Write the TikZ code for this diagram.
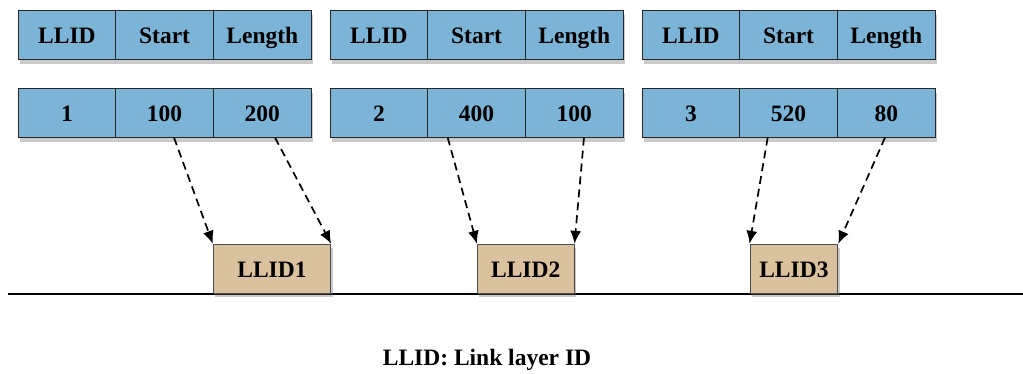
\documentclass[tikz,border=0pt]{standalone}
\usepackage{fontspec}
\setmainfont{Liberation Serif}
\usetikzlibrary{shadows, arrows.meta}
\definecolor{cellblue}{RGB}{123,180,214}
\definecolor{llidtan}{RGB}{218,194,158}
\begin{document}
\begin{tikzpicture}[x=1pt, y=-1pt]
\useasboundingbox (0,0) rectangle (1023,374);
\tikzset{cell/.style={rectangle, draw=black!85, line width=0.9pt, fill=cellblue,
    minimum width=97.7pt, minimum height=48.7pt, inner sep=0pt,
    text height=20pt, text depth=3.4pt,
    font=\fontsize{23.5}{27}\selectfont\bfseries}}
\tikzset{llid/.style={cell, fill=llidtan, draw=black!70, minimum height=49pt,
    drop shadow={shadow xshift=2pt, shadow yshift=-4pt, fill=black!60, opacity=0.35}}}

% shadows under each row
\foreach \x in {18,330,642} {
  \fill[black!60, opacity=0.35] (\x+2,15) rectangle (\x+295,64);
  \fill[black!60, opacity=0.35] (\x+2,93) rectangle (\x+295,142);
}

% header rows
\node[cell] (h1a) at (66.9, 35.2) {LLID};
\node[cell] (h1b) at (164.6, 35.2) {Start};
\node[cell] (h1c) at (262.3, 35.2) {Length};
\node[cell] (h2a) at (378.9, 35.2) {LLID};
\node[cell] (h2b) at (476.6, 35.2) {Start};
\node[cell] (h2c) at (574.3, 35.2) {Length};
\node[cell] (h3a) at (690.9, 35.2) {LLID};
\node[cell] (h3b) at (788.6, 35.2) {Start};
\node[cell] (h3c) at (886.3, 35.2) {Length};

% value rows
\node[cell] (v1a) at (66.9, 113.2) {1};
\node[cell] (v1b) at (164.6, 113.2) {100};
\node[cell] (v1c) at (262.3, 113.2) {200};
\node[cell] (v2a) at (378.9, 113.2) {2};
\node[cell] (v2b) at (476.6, 113.2) {400};
\node[cell] (v2c) at (574.3, 113.2) {100};
\node[cell] (v3a) at (690.9, 113.2) {3};
\node[cell] (v3b) at (788.6, 113.2) {520};
\node[cell] (v3c) at (886.3, 113.2) {80};

% link
\coordinate (wl) at (8, 293.5);
\coordinate (wr) at (1023, 293.5);
\draw[line width=2pt] (wl) -- (wr);

\node[llid, minimum width=117.4pt] (L1) at (272.0, 268.8) {LLID1};
\node[llid, minimum width=96.7pt] (L2) at (525.7, 268.8) {LLID2};
\node[llid, minimum width=87.7pt] (L3) at (793.9, 268.8) {LLID3};

\node[font=\fontsize{23.5}{27}\selectfont\bfseries] (key) at (487, 360) {LLID: Link layer ID};

\coordinate (s1) at (174, 137.6);
\coordinate (e1) at (275, 137.6);
\coordinate (s2) at (447.7, 137.6);
\coordinate (e2) at (584, 137.6);
\coordinate (s3) at (767.7, 137.6);
\coordinate (e3) at (885, 137.6);

\tikzset{ptr/.style={-{Latex[length=13pt, width=11pt]}, line width=1.7pt,
    dash pattern=on 8pt off 5pt}}
\path (s1) edge [ptr] (L1.north west);
\path (e1) edge [ptr] (L1.north east);
\path (s2) edge [ptr] (L2.north west);
\path (e2) edge [ptr] (L2.north east);
\path (s3) edge [ptr] (L3.north west);
\path (e3) edge [ptr] (L3.north east);
\end{tikzpicture}
\end{document}
